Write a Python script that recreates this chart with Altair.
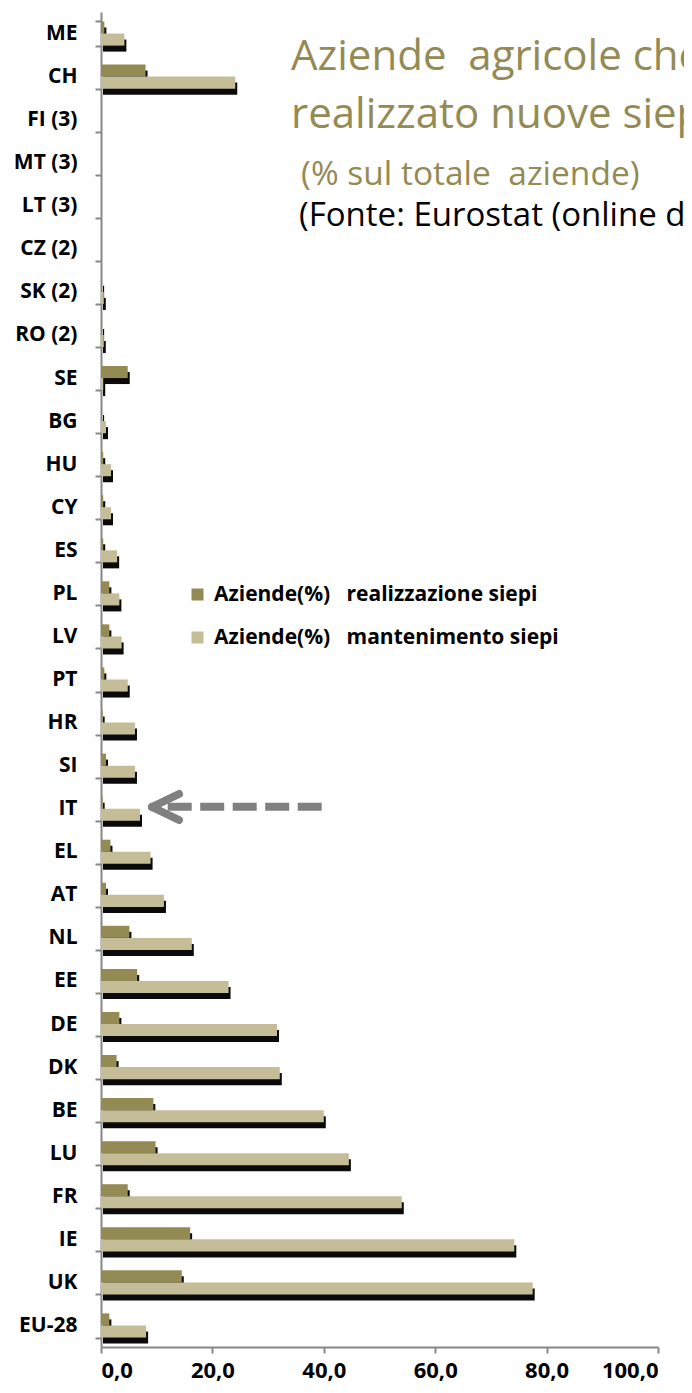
import altair as alt
import pandas as pd

# ---- data ----
paesi = ["ME", "CH", "FI (3)", "MT (3)", "LT (3)", "CZ (2)", "SK (2)", "RO (2)", "SE", "BG",
         "HU", "CY", "ES", "PL", "LV", "PT", "HR", "SI", "IT", "EL", "AT", "NL", "EE",
         "DE", "DK", "BE", "LU", "FR", "IE", "UK", "EU-28"]
realizzazione = [0.6, 8.0, 0, 0, 0, 0, 0.2, 0.2, 4.8, 0.2,
                 0.4, 0.4, 0.4, 1.5, 1.5, 0.6, 0.3, 0.9, 0.3, 1.7, 0.9, 5.1, 6.5,
                 3.3, 2.8, 9.4, 9.8, 4.8, 16.0, 14.5, 1.5]
mantenimento = [4.2, 24.1, 0, 0, 0, 0, 0.5, 0.5, 0.4, 0.9,
                1.8, 1.8, 2.9, 3.3, 3.7, 4.8, 6.1, 6.1, 7.0, 8.9, 11.3, 16.3, 22.9,
                31.6, 32.1, 40.0, 44.5, 54.0, 74.2, 77.5, 8.1]
serie = ["Aziende(%)\u00a0\u00a0\u00a0realizzazione siepi",
         "Aziende(%)\u00a0\u00a0\u00a0mantenimento siepi"]
colori = ["#948A54", "#C4BD97"]
tick_x = [0, 20, 40, 60, 80, 100]
titolo1 = "Aziende\u00a0\u00a0agricole che hanno"
titolo2 = "realizzato nuove siepi"
sottotitolo = "(% sul totale\u00a0\u00a0aziende)"
fonte = "(Fonte: Eurostat (online data code))"

n = len(paesi)
df = pd.DataFrame({
    "paese": paesi * 2,
    "serie": [serie[0]] * n + [serie[1]] * n,
    "valore": realizzazione + mantenimento,
})

FONT = "Open Sans"
GRAY = "#878787"
W, H = 557, 1335

y_axis = alt.Axis(title=None, labelFont=FONT, labelFontWeight="bold", labelFontSize=21,
                  labelColor="black", tickBand="extent", tickSize=6, tickWidth=2,
                  tickColor=GRAY, domainColor=GRAY, domainWidth=2, labelPadding=18, grid=False)
x_axis = alt.Axis(title=None, values=tick_x, labelFont=FONT, labelFontWeight="bold",
                  labelFontSize=22, labelColor="black", tickSize=6, tickWidth=2,
                  tickColor=GRAY, domainColor=GRAY, domainWidth=2, labelPadding=7,
                  grid=False, labelExpr="replace(format(datum.value, '.1f'), '.', ',')")

y_enc = alt.Y("paese:N", sort=paesi, axis=y_axis,
              scale=alt.Scale(paddingInner=0.44, paddingOuter=0.22))
# shadow: same band layout, shifted 6px down
y_shadow = alt.Y("paese:N", sort=paesi, axis=None,
                 scale=alt.Scale(paddingInner=0.44, paddingOuter=0.22, range=[6, H + 6]))
yoff = alt.YOffset("serie:N", sort=serie, scale=alt.Scale(domain=serie, paddingInner=0, paddingOuter=0))
x_enc = alt.X("valore:Q", axis=x_axis, scale=alt.Scale(domain=[0, 100], nice=False))

ombra = alt.Chart(df).mark_bar(color="#0a0a0a", xOffset=2).encode(
    x=x_enc, y=y_shadow, yOffset=yoff)

barre = alt.Chart(df).mark_bar().encode(
    x=x_enc, y=y_enc, yOffset=yoff,
    color=alt.Color("serie:N", sort=serie,
                    scale=alt.Scale(domain=serie, range=colori),
                    legend=alt.Legend(title=None, orient="none", legendX=86, legendY=572,
                                      direction="vertical", symbolType="square",
                                      symbolSize=144, symbolStrokeWidth=0,
                                      labelFont=FONT, labelFontWeight="bold",
                                      labelFontSize=21, labelColor="black",
                                      rowPadding=21, padding=0, labelOffset=6,
                                      labelLimit=0)))


def testo(s, x, y, size, color):
    return alt.Chart(pd.DataFrame({"t": [s]})).mark_text(
        align="left", baseline="alphabetic", font=FONT, fontSize=size, color=color
    ).encode(x=alt.value(x), y=alt.value(y), text="t:N")


t1 = testo(titolo1, 190, 58, 42, "#948A54")
t2 = testo(titolo2, 190, 116, 42, "#948A54")
t3 = testo(sottotitolo, 200, 173, 33.5, "#948A54")
t4 = testo(fonte, 198, 214, 33, "black")

one = pd.DataFrame({"a": [0]})
freccia = alt.Chart(one).mark_rule(color="#808080", strokeWidth=8, strokeDash=[24, 8.5]).encode(
    x=alt.value(220.7), x2=alt.value(66.7), y=alt.value(794.7))
punta1 = alt.Chart(one).mark_rule(color="#808080", strokeWidth=8, strokeCap="round").encode(
    x=alt.value(51), y=alt.value(795), x2=alt.value(78), y2=alt.value(782))
punta2 = alt.Chart(one).mark_rule(color="#808080", strokeWidth=8, strokeCap="round").encode(
    x=alt.value(51), y=alt.value(795), x2=alt.value(78), y2=alt.value(808))

chart = alt.layer(ombra, barre, freccia, punta1, punta2, t1, t2, t3, t4).resolve_scale(
    y="independent"
).properties(
    width=W, height=H,
    autosize=alt.AutoSizeParams(type="none"),
    padding={"left": 93, "top": 4, "right": 26, "bottom": 38},
    background="white",
).configure_view(stroke=None)

chart.save("out.html", embed_options={"renderer": "svg", "actions": False})
